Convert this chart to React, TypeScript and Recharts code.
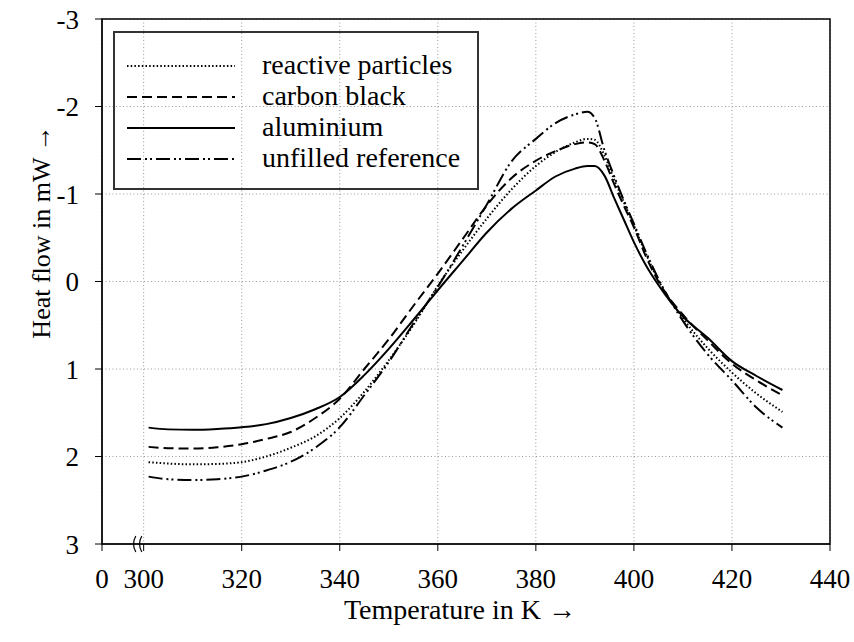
import { LineChart, Line, XAxis, YAxis, CartesianGrid, Legend, ReferenceArea, ReferenceDot } from 'recharts';

// temperature in K (broken axis: "0" sits just left of 300)
const temperature = [301, 305, 310, 315, 320, 325, 330, 335, 340, 345, 350, 355, 360, 365, 370, 375, 380, 384, 388, 390.5, 392, 394, 396, 398, 400, 402.5, 405, 410, 415, 420, 425, 430.3];

// heat flow in mW
const aluminium = [1.67, 1.69, 1.695, 1.685, 1.665, 1.63, 1.56, 1.46, 1.32, 1.07, 0.77, 0.44, 0.1, -0.23, -0.56, -0.83, -1.04, -1.2, -1.29, -1.32, -1.32, -1.21, -0.95, -0.7, -0.45, -0.18, 0.04, 0.4, 0.64, 0.91, 1.08, 1.24];
const carbonBlack = [1.89, 1.905, 1.91, 1.895, 1.86, 1.8, 1.72, 1.56, 1.34, 1.0, 0.66, 0.28, -0.09, -0.48, -0.87, -1.18, -1.38, -1.49, -1.57, -1.59, -1.57, -1.38, -1.11, -0.86, -0.62, -0.28, 0.0, 0.38, 0.67, 0.94, 1.13, 1.3];
const reactiveParticles = [2.065, 2.08, 2.09, 2.085, 2.065, 2.0, 1.9, 1.77, 1.56, 1.26, 0.9, 0.5, 0.05, -0.35, -0.72, -1.05, -1.32, -1.48, -1.59, -1.63, -1.62, -1.44, -1.16, -0.9, -0.64, -0.31, -0.01, 0.42, 0.76, 1.04, 1.28, 1.49];
const unfilledReference = [2.23, 2.26, 2.27, 2.26, 2.23, 2.16, 2.06, 1.9, 1.665, 1.3, 0.92, 0.48, 0.06, -0.4, -0.88, -1.37, -1.63, -1.81, -1.91, -1.94, -1.87, -1.5, -1.2, -0.92, -0.66, -0.33, -0.03, 0.45, 0.83, 1.13, 1.44, 1.67];

const AXIS_ZERO = 291.5;
const xTicks = [AXIS_ZERO, 300, 320, 340, 360, 380, 400, 420, 440];
const yTicks = [-3, -2, -1, 0, 1, 2, 3];

const series = [
  { key: 'reactive', name: 'reactive particles', dash: '1.5 2.2' },
  { key: 'carbon', name: 'carbon black', dash: '10 5' },
  { key: 'alu', name: 'aluminium', dash: undefined },
  { key: 'unfilled', name: 'unfilled reference', dash: '14 4 2 3 2 4' },
];

const data = temperature.map((t, i) => ({
  t,
  reactive: reactiveParticles[i],
  carbon: carbonBlack[i],
  alu: aluminium[i],
  unfilled: unfilledReference[i],
}));

const FONT = '"Liberation Serif", "Times New Roman", serif';

function LegendBox() {
  return (
    <svg width={366} height={159} style={{ display: 'block' }}>
      <rect x={1} y={1} width={364} height={157} fill="none" stroke="#333" strokeWidth={2} />
      {series.map((s, i) => {
        const y = 35 + i * 31;
        return (
          <g key={s.key}>
            <line x1={14} x2={122} y1={y} y2={y} stroke="#000" strokeWidth={2} strokeDasharray={s.dash} />
            <text x={149} y={y + 8} fontSize={28} fontFamily={FONT} fill="#000">
              {s.name}
            </text>
          </g>
        );
      })}
    </svg>
  );
}

function AxisBreak(props: any) {
  const { cx, cy } = props;
  if (cx == null || cy == null) return null;
  const p = (x: number) => `M ${x + 1.5} ${cy - 8} Q ${x - 3} ${cy} ${x + 1.5} ${cy + 8}`;
  return (
    <g>
      <path d={p(cx - 3)} fill="none" stroke="#000" strokeWidth={1.2} />
      <path d={p(cx + 3)} fill="none" stroke="#000" strokeWidth={1.2} />
    </g>
  );
}

export default function App() {
  return (
    <div style={{ position: 'absolute', left: 0, top: 0, background: '#fff' }}>
      <LineChart width={854} height={642} data={data} margin={{ top: 19, right: 24, bottom: 0, left: 0 }}>
        <CartesianGrid stroke="#999" strokeDasharray="1 2.5" />
        <XAxis
          dataKey="t"
          type="number"
          domain={[AXIS_ZERO, 440]}
          ticks={xTicks}
          interval={0}
          allowDataOverflow
          tickFormatter={(v: number) => (v === AXIS_ZERO ? '0' : String(v))}
          height={98}
          tickSize={7}
          tickMargin={18}
          stroke="#000"
          tick={{ fill: '#000', fontSize: 27, fontFamily: FONT }}
          label={{
            content: () => (
              <text x={460} y={619} textAnchor="middle" fontSize={28} fontFamily={FONT} fill="#000">
                Temperature in K →
              </text>
            ),
          }}
        />
        <YAxis
          type="number"
          domain={[-3, 3]}
          reversed
          ticks={yTicks}
          interval={0}
          width={102}
          tickSize={7}
          tickMargin={16}
          stroke="#000"
          tick={{ fill: '#000', fontSize: 27, fontFamily: FONT }}
          label={{
            content: () => (
              <text
                x={0}
                y={0}
                transform="translate(50 232) rotate(-90)"
                textAnchor="middle"
                fontSize={26}
                fontFamily={FONT}
                fill="#000"
              >
                Heat flow in mW →
              </text>
            ),
          }}
        />
        <ReferenceArea x1={AXIS_ZERO} x2={440} y1={-3} y2={3} fill="none" stroke="#000" strokeWidth={1.5} />
        <ReferenceDot x={298.7} y={3} shape={AxisBreak} />
        {series.map((s) => (
          <Line
            key={s.key}
            dataKey={s.key}
            name={s.name}
            type="monotone"
            stroke="#000"
            strokeWidth={2}
            strokeDasharray={s.dash}
            dot={false}
            activeDot={false}
            isAnimationActive={false}
          />
        ))}
        <Legend
          layout="horizontal"
          verticalAlign="middle"
          align="center"
          content={() => <LegendBox />}
          wrapperStyle={{ left: 113, top: 31, width: 366, height: 159 }}
        />
      </LineChart>
    </div>
  );
}
